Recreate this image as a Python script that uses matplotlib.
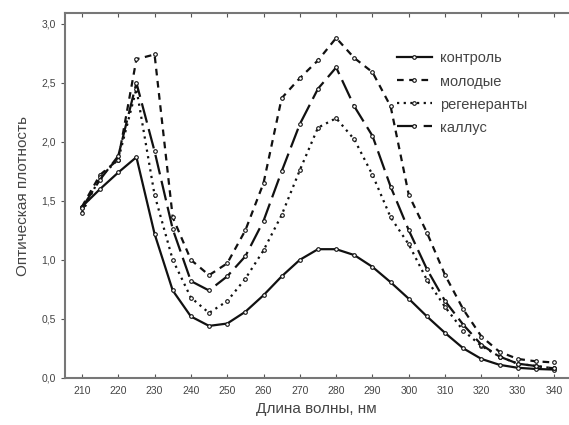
import matplotlib.pyplot as plt
from matplotlib.ticker import FuncFormatter

plt.rcParams['font.family'] = ['Liberation Sans', 'DejaVu Sans']

# wavelengths, nm
wl = [210, 215, 220, 225, 230, 235, 240, 245, 250, 255, 260, 265, 270, 275,
      280, 285, 290, 295, 300, 305, 310, 315, 320, 325, 330, 335, 340]

kontrol = [1.45, 1.60, 1.74, 1.87, 1.22, 0.74, 0.52, 0.44, 0.46, 0.56, 0.70, 0.86,
           1.00, 1.09, 1.09, 1.04, 0.94, 0.81, 0.67, 0.52, 0.38, 0.25, 0.16, 0.11,
           0.085, 0.075, 0.07]
molodye = [1.45, 1.72, 1.85, 2.70, 2.74, 1.36, 1.00, 0.87, 0.97, 1.25, 1.65, 2.37,
           2.54, 2.69, 2.88, 2.71, 2.59, 2.30, 1.55, 1.23, 0.87, 0.58, 0.35, 0.22,
           0.16, 0.14, 0.13]
regeneranty = [1.40, 1.70, 1.85, 2.45, 1.55, 1.00, 0.68, 0.55, 0.65, 0.84, 1.08, 1.38,
               1.76, 2.12, 2.20, 2.02, 1.72, 1.36, 1.13, 0.83, 0.60, 0.40, 0.27, 0.18,
               0.12, 0.10, 0.08]
kallus = [1.44, 1.68, 1.88, 2.50, 1.92, 1.26, 0.82, 0.74, 0.86, 1.03, 1.33, 1.75,
          2.15, 2.45, 2.63, 2.30, 2.05, 1.62, 1.25, 0.92, 0.65, 0.45, 0.28, 0.18,
          0.12, 0.10, 0.08]

labels = ['контроль', 'молодые', 'регенеранты', 'каллус']
xticks = [210, 220, 230, 240, 250, 260, 270, 280, 290, 300, 310, 320, 330, 340]
yticks = [0.0, 0.5, 1.0, 1.5, 2.0, 2.5, 3.0]

fig = plt.figure(figsize=(5.69, 4.25), dpi=100)
ax = fig.add_axes([0.114, 0.111, 0.884, 0.858])

mk = dict(marker='o', markersize=2.6, markerfacecolor='white', markeredgewidth=0.8,
          color='#111111', linewidth=1.6)
ax.plot(wl, kontrol, linestyle='-', label=labels[0], **mk)
ax.plot(wl, molodye, linestyle=(0, (3, 2.5)), label=labels[1], **mk)
ax.plot(wl, regeneranty, linestyle=(0, (1, 2)), label=labels[2], **mk)
ax.plot(wl, kallus, linestyle=(0, (9, 3)), label=labels[3], **mk)

ax.set_xlim(205.3, 343.8)
ax.set_ylim(0, 3.09)
ax.set_xticks(xticks)
ax.set_yticks(yticks)
ax.yaxis.set_major_formatter(FuncFormatter(lambda v, p: ('%.1f' % v).replace('.', ',')))

ax.tick_params(axis='x', direction='in', top=True, length=3, labelsize=7.5,
               color='#555555', labelcolor='#444444', pad=6)
ax.tick_params(axis='y', direction='out', length=3, labelsize=7.5,
               color='#555555', labelcolor='#444444')
for s in ax.spines.values():
    s.set_color('#777777')
    s.set_linewidth(1.5)
ax.spines['right'].set_visible(False)

ax.set_xlabel('Длина волны, нм', fontsize=11, color='#444444', labelpad=4)
ax.set_ylabel('Оптическая плотность', fontsize=11, color='#444444', labelpad=8)

leg = ax.legend(loc='upper left', bbox_to_anchor=(0.66, 0.895), frameon=False,
                fontsize=10.5, handlelength=2.4, handletextpad=0.55,
                labelspacing=0.62, borderaxespad=0, borderpad=0)
for t in leg.get_texts():
    t.set_color('#444444')

plt.savefig('out.png', dpi=100)
